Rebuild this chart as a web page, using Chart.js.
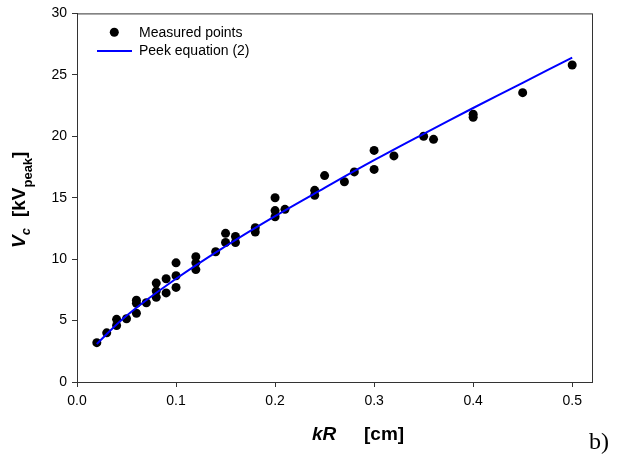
<!DOCTYPE html>
<html>
<head>
<meta charset="utf-8">
<script src="https://cdn.jsdelivr.net/npm/chart.js@4"></script>
<style>
  html, body { margin: 0; padding: 0; background: #fff; }
  #wrap { width: 622px; height: 456px; }
</style>
</head>
<body>
<div id="wrap"><canvas id="peekChart" width="622" height="456"></canvas></div>
<script>
// measured onset voltages
const measuredKR = [0.02, 0.03, 0.04, 0.04, 0.05, 0.06, 0.06, 0.06, 0.07, 0.08, 0.08, 0.08,
  0.09, 0.09, 0.10, 0.10, 0.10, 0.12, 0.12, 0.12, 0.14, 0.15, 0.15, 0.16, 0.16, 0.18, 0.18,
  0.20, 0.20, 0.20, 0.21, 0.24, 0.24, 0.25, 0.27, 0.28, 0.30, 0.30, 0.32, 0.35, 0.36,
  0.40, 0.40, 0.45, 0.50];
const measuredVc = [3.2, 4.0, 5.1, 4.6, 5.15, 6.65, 6.4, 5.6, 6.45, 8.05, 7.4, 6.9,
  8.4, 7.25, 9.7, 8.65, 7.7, 10.2, 9.7, 9.15, 10.6, 12.1, 11.35, 11.85, 11.35, 12.55, 12.2,
  15.0, 13.95, 13.45, 14.05, 15.6, 15.2, 16.8, 16.3, 17.1, 18.85, 17.3, 18.4, 20.0, 19.75,
  21.8, 21.55, 23.55, 25.8];

// Peek equation (2) curve
const peekKR = [0.02, 0.05, 0.10, 0.15, 0.20, 0.25, 0.30, 0.35, 0.40, 0.45, 0.50];
const peekVc = [3.1, 5.4, 8.4, 11.05, 13.5, 15.8, 18.05, 20.2, 22.3, 24.35, 26.4];

const xTicks = [0.0, 0.1, 0.2, 0.3, 0.4, 0.5];
const yTicks = [0, 5, 10, 15, 20, 25, 30];

const axisColor = '#333';
const tickFont = { family: 'Liberation Sans, Arial, sans-serif', size: 14 };

// frame, axis titles, legend and panel letter
const decorPlugin = {
  id: 'decor',
  afterDraw(chart) {
    const c = chart.ctx;
    const a = chart.chartArea;
    c.save();
    c.strokeStyle = axisColor;
    c.lineWidth = 1;
    c.strokeRect(a.left + 0.5, a.top + 0.5, a.right - a.left, a.bottom - a.top);

    c.fillStyle = '#000';
    c.textBaseline = 'alphabetic';
    c.textAlign = 'left';

    // x title
    c.font = 'italic bold 19px "Liberation Sans", Arial, sans-serif';
    c.fillText('kR', 312, 440);
    c.font = 'bold 19px "Liberation Sans", Arial, sans-serif';
    c.fillText('[cm]', 364, 440);

    // y title, rotated, with subscripts
    c.save();
    c.translate(25, 248);
    c.rotate(-Math.PI / 2);
    let px = 0;
    const part = (txt, font, dy) => {
      c.font = font;
      c.fillText(txt, px, dy);
      px += c.measureText(txt).width;
    };
    part('V', 'italic bold 19px "Liberation Sans", Arial, sans-serif', 0);
    part('c', 'italic bold 13px "Liberation Sans", Arial, sans-serif', 5);
    px += 11;
    part('[kV', 'bold 19px "Liberation Sans", Arial, sans-serif', 0);
    part('peak', 'bold 13px "Liberation Sans", Arial, sans-serif', 7);
    part(']', 'bold 19px "Liberation Sans", Arial, sans-serif', 0);
    c.restore();

    // legend
    c.font = '14px "Liberation Sans", Arial, sans-serif';
    c.textBaseline = 'middle';
    c.beginPath();
    c.arc(114.3, 32.3, 4.5, 0, Math.PI * 2);
    c.fill();
    c.fillText('Measured points', 139, 33);
    c.strokeStyle = '#0000ff';
    c.lineWidth = 2;
    c.beginPath();
    c.moveTo(97, 51);
    c.lineTo(132, 51);
    c.stroke();
    c.fillText('Peek equation (2)', 139, 51);

    // panel letter
    c.textBaseline = 'alphabetic';
    c.font = '24px "Liberation Serif", "Times New Roman", serif';
    c.fillText('b)', 589, 449);
    c.restore();
  }
};

const ctx = document.getElementById('peekChart').getContext('2d');

new Chart(ctx, {
  type: 'scatter',
  data: {
    datasets: [
      {
        label: 'Peek equation (2)',
        data: peekKR.map((x, i) => ({ x: x, y: peekVc[i] })),
        showLine: true,
        borderColor: '#0000ff',
        borderWidth: 2,
        pointRadius: 0,
        tension: 0.4,
        order: 0
      },
      {
        label: 'Measured points',
        data: measuredKR.map((x, i) => ({ x: x, y: measuredVc[i] })),
        backgroundColor: '#000',
        borderColor: '#000',
        borderWidth: 0,
        pointRadius: 4.5,
        order: 1
      }
    ]
  },
  options: {
    responsive: false,
    animation: false,
    layout: { padding: { top: 10, right: 30, left: 0, bottom: 0 } },
    plugins: {
      legend: { display: false },
      tooltip: { enabled: false }
    },
    scales: {
      x: {
        type: 'linear',
        min: 0,
        max: 0.52,
        afterBuildTicks: (s) => { s.ticks = xTicks.map(v => ({ value: v })); },
        afterFit: (s) => { s.height = 74; },
        grid: { drawOnChartArea: false, drawTicks: true, tickLength: 5, color: axisColor },
        border: { display: true, color: axisColor },
        ticks: {
          color: '#000',
          font: tickFont,
          padding: 6,
          maxRotation: 0,
          callback: (v) => v.toFixed(1)
        }
      },
      y: {
        type: 'linear',
        min: 0,
        max: 30,
        afterBuildTicks: (s) => { s.ticks = yTicks.map(v => ({ value: v })); },
        afterFit: (s) => { s.width = 77; },
        grid: { drawOnChartArea: false, drawTicks: true, tickLength: 5, color: axisColor },
        border: { display: true, color: axisColor },
        ticks: { color: '#000', font: tickFont, padding: 5 }
      }
    }
  },
  plugins: [decorPlugin]
});
</script>
</body>
</html>
